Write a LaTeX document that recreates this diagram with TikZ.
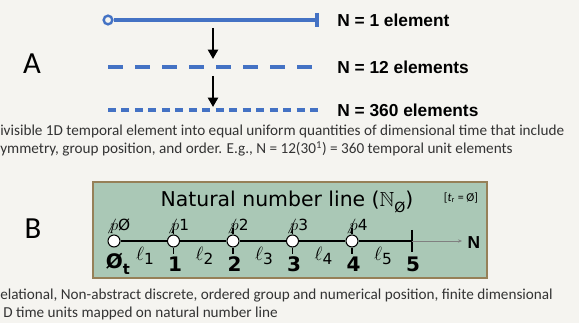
\documentclass[tikz,border=0pt]{standalone}
\usepackage{amssymb}
\usepackage{fontspec}
\setmainfont{Carlito}
\newfontfamily\headfont{Liberation Sans}
\newfontfamily\linefont{DejaVu Sans}
\definecolor{tblue}{RGB}{68,114,196}
\definecolor{paper}{RGB}{245,244,240}
\definecolor{sage}{RGB}{170,200,182}
\definecolor{boxedge}{RGB}{150,128,88}
\usetikzlibrary{arrows.meta}

\begin{document}
\begin{tikzpicture}[x=0.75pt,y=-0.75pt,
  bigletter/.style={font=\fontsize{23}{26}\selectfont},
  elemlabel/.style={anchor=west,inner sep=0pt,font=\headfont\bfseries\fontsize{13}{15}\selectfont},
  bluesolid/.style={tblue,line width=2.6pt},
  opendot/.style={circle,draw=tblue,fill=paper,line width=1.8pt,minimum size=6.5pt,inner sep=0pt},
  downarrow/.style={-{Triangle[length=7pt,width=7.5pt]},line width=1.6pt},
  note/.style={anchor=west,inner sep=0pt,font=\fontsize{11.4}{13}\selectfont,text=black!80},
  numbox/.style={draw=boxedge,fill=sage,line width=1.2pt,minimum width=295.5pt,minimum height=72pt},
  numline/.style={line width=1.5pt},
  tickpt/.style={circle,draw,fill=white,line width=0.8pt,minimum size=9pt,inner sep=0pt},
  poslabel/.style={inner sep=0pt,font=\linefont\fontsize{11.5}{12}\selectfont},
  numlabel/.style={inner sep=0pt,font=\linefont\bfseries\fontsize{15}{16}\selectfont},
  seglabel/.style={inner sep=0pt,font=\linefont\fontsize{13.5}{14}\selectfont}]
  \useasboundingbox[fill=paper] (0,0) rectangle (579,323);

  % Panel A: one element split into equal parts
  \node[bigletter] (la) at (32,64) {A};
  \node[opendot] (s0) at (108,20) {};
  \coordinate (s1) at (317,20);
  \draw[bluesolid] (s0) -- (s1);
  \draw[bluesolid] (317,13) -- (317,27);
  \node[elemlabel] (n1) at (337,20) {N = 1 element};

  \coordinate (d0) at (108,67);
  \coordinate (d1) at (312,67);
  \draw[tblue,line width=3pt,dash pattern=on 11.25pt off 9pt] (d0) -- (d1);
  \node[elemlabel] (n12) at (337,67) {N = 12 elements};

  \coordinate (e0) at (108,110);
  \coordinate (e1) at (318,110);
  \draw[tblue,line width=2.6pt,dash pattern=on 6pt off 4.1pt] (e0) -- (e1);
  \node[elemlabel] (n360) at (337,110) {N = 360 elements};

  \coordinate (a1s) at (213,28);
  \coordinate (a1e) at (213,59);
  \coordinate (a2s) at (213,76);
  \coordinate (a2e) at (213,107);
  \draw[downarrow] (a1s) -- (a1e);
  \draw[downarrow] (a2s) -- (a2e);

  \node[note] (ta1) at (0,131) {ivisible 1D temporal element into equal uniform quantities of dimensional time that include};
  \node[note] (ta2) at (0,149) {ymmetry, group position, and order. E.g., N = 12(30\textsuperscript{1}) = 360 temporal unit elements};

  % Panel B: natural number line
  \node[bigletter] (lb) at (33,229) {B};
  \node[numbox] (box) at (290,230) {};
  \node[font=\linefont\fontsize{15.3}{17}\selectfont,inner sep=0pt] (title) at (287,202)
    {Natural number line ($\mathbb{N}$\raisebox{-0.45ex}{\fontsize{10.5}{12}\selectfont Ø})};
  \node[inner sep=0pt,font=\fontsize{9}{10}\selectfont] (tr) at (461,198)
    {[\textit{t}\textsubscript{r} = Ø]};

  \foreach \i in {0,...,4}
    \node[tickpt] (p\i) at ({114+59.5*\i},241) {};
  \coordinate (p5) at (412,241);
  \foreach \i/\j in {0/1,1/2,2/3,3/4,4/5}
    \draw[numline] (p\i) -- (p\j);
  \draw[numline] (412,230) -- (412,252);
  \foreach \i in {1,...,4} {
    \draw[line width=1pt] (p\i.north) -- ++(0,-6);
    \draw[line width=1pt] (p\i.south) -- ++(0,6);
  }
  \coordinate (nend) at (462,241);
  \draw[gray,line width=0.4pt,-{Stealth[length=3pt,width=2.5pt]}] (p5) -- (nend);
  \node[inner sep=0pt,font=\headfont\bfseries\fontsize{13}{14}\selectfont] (nlab) at (474,243) {N};

  % position and length labels
  \node[poslabel] (q0) at (118,226) {$\not p$Ø};
  \foreach \i in {1,...,4}
    \node[poslabel] (q\i) at ({178+59.5*(\i-1)},226) {$\not p$\i};
  \node[numlabel] (z0) at (118,264) {Ø\raisebox{-0.6ex}{\fontsize{11}{12}\selectfont t}};
  \foreach \i in {1,...,5}
    \node[numlabel] (z\i) at ({175+59.5*(\i-1)},264) {\i};
  \foreach \i in {1,...,5}
    \node[seglabel] (l\i) at ({145+59.5*(\i-1)},256) {$\ell$\raisebox{-0.4ex}{\fontsize{11.5}{12}\selectfont\i}};

  \node[note] (tb1) at (0,296) {elational, Non-abstract discrete, ordered group and numerical position, finite dimensional};
  \node[note] (tb2) at (3,313) {D time units mapped on natural number line};
\end{tikzpicture}
\end{document}
